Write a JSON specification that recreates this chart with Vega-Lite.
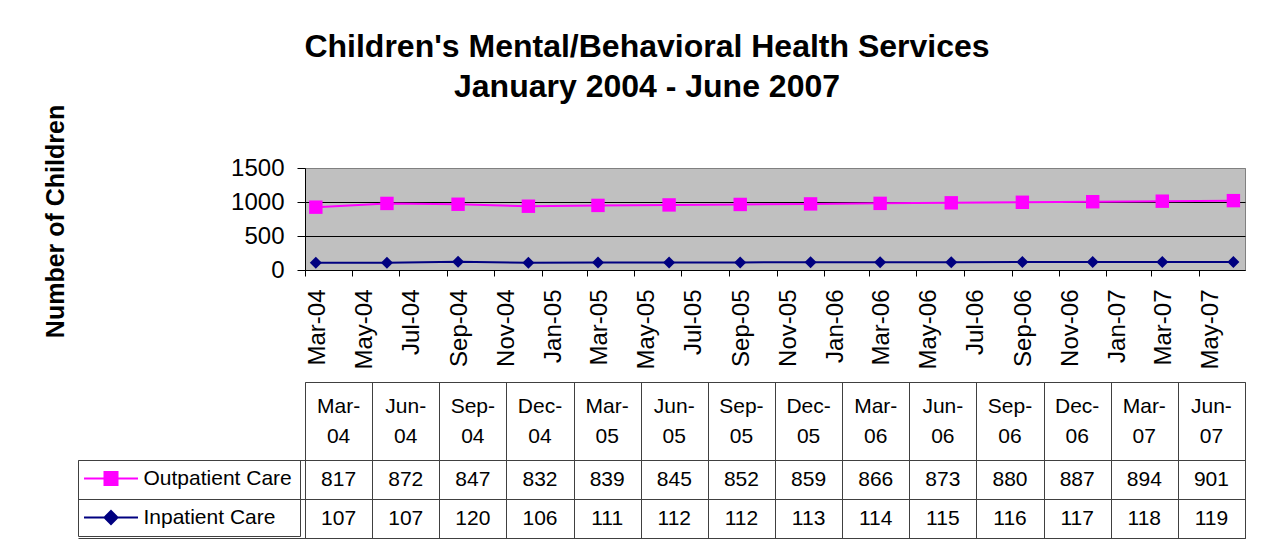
{
  "$schema": "https://vega.github.io/schema/vega-lite/v6.json",
  "background": "white",
  "padding": {"left": 42, "top": 30, "right": 38, "bottom": 19},
  "config": {
    "font": "Liberation Sans",
    "view": {"stroke": null},
    "text": {"font": "Liberation Sans", "color": "black"}
  },
  "title": {
    "text": ["Children's Mental/Behavioral Health Services", "January 2004 - June 2007"],
    "font": "Liberation Sans",
    "fontSize": 32,
    "fontWeight": "bold",
    "color": "black",
    "anchor": "middle",
    "lineHeight": 40,
    "baseline": "bottom",
    "offset": -32,
    "dx": 3
  },
  "data": {
    "values": [
      {"date": "2004-03-15", "series": "Outpatient Care", "count": 817},
      {"date": "2004-06-15", "series": "Outpatient Care", "count": 872},
      {"date": "2004-09-15", "series": "Outpatient Care", "count": 847},
      {"date": "2004-12-15", "series": "Outpatient Care", "count": 832},
      {"date": "2005-03-15", "series": "Outpatient Care", "count": 839},
      {"date": "2005-06-15", "series": "Outpatient Care", "count": 845},
      {"date": "2005-09-15", "series": "Outpatient Care", "count": 852},
      {"date": "2005-12-15", "series": "Outpatient Care", "count": 859},
      {"date": "2006-03-15", "series": "Outpatient Care", "count": 866},
      {"date": "2006-06-15", "series": "Outpatient Care", "count": 873},
      {"date": "2006-09-15", "series": "Outpatient Care", "count": 880},
      {"date": "2006-12-15", "series": "Outpatient Care", "count": 887},
      {"date": "2007-03-15", "series": "Outpatient Care", "count": 894},
      {"date": "2007-06-15", "series": "Outpatient Care", "count": 901},
      {"date": "2004-03-15", "series": "Inpatient Care", "count": 107},
      {"date": "2004-06-15", "series": "Inpatient Care", "count": 107},
      {"date": "2004-09-15", "series": "Inpatient Care", "count": 120},
      {"date": "2004-12-15", "series": "Inpatient Care", "count": 106},
      {"date": "2005-03-15", "series": "Inpatient Care", "count": 111},
      {"date": "2005-06-15", "series": "Inpatient Care", "count": 112},
      {"date": "2005-09-15", "series": "Inpatient Care", "count": 112},
      {"date": "2005-12-15", "series": "Inpatient Care", "count": 113},
      {"date": "2006-03-15", "series": "Inpatient Care", "count": 114},
      {"date": "2006-06-15", "series": "Inpatient Care", "count": 115},
      {"date": "2006-09-15", "series": "Inpatient Care", "count": 116},
      {"date": "2006-12-15", "series": "Inpatient Care", "count": 117},
      {"date": "2007-03-15", "series": "Inpatient Care", "count": 118},
      {"date": "2007-06-15", "series": "Inpatient Care", "count": 119}
    ]
  },
  "bounds": "flush",
  "spacing": 112,
  "vconcat": [
    {
      "width": 940,
      "height": 102,
      "view": {"fill": "#C0C0C0", "stroke": "#808080", "strokeWidth": 1},
      "transform": [
        {"stack": "count", "groupby": ["date"], "sort": [{"field": "series", "order": "ascending"}], "as": ["count_lo", "count_hi"]}
      ],
      "encoding": {
        "x": {
          "field": "date",
          "type": "temporal",
          "scale": {
            "type": "utc",
            "domain": [
              {"year": 2004, "month": 3, "date": 1, "utc": true},
              {"year": 2007, "month": 6, "date": 30, "utc": true}
            ]
          },
          "axis": {
            "title": null,
            "format": "%b-%y",
            "tickCount": {"interval": "month", "step": 2},
            "labelAngle": 270,
            "labelAlign": "right",
            "labelBaseline": "top",
            "labelFont": "Liberation Sans",
            "labelFontSize": 24,
            "labelColor": "black",
            "labelPadding": 13,
            "labelOverlap": false,
            "labelFlush": false,
            "labelBound": false,
            "tickSize": 6,
            "tickColor": "black",
            "domainColor": "black",
            "grid": false
          }
        },
        "y": {
          "field": "count_hi",
          "type": "quantitative",
          "scale": {"domain": [0, 1500], "nice": false},
          "axis": {
            "values": [0, 500, 1000, 1500],
            "format": "d",
            "title": "Number of Children",
            "titleFont": "Liberation Sans",
            "titleFontSize": 25,
            "titleFontWeight": "bold",
            "titleColor": "black",
            "titleAngle": 270,
            "titleAlign": "center",
            "titleBaseline": "alphabetic",
            "titleX": -242,
            "titleY": 53,
            "labelFont": "Liberation Sans",
            "labelFontSize": 24,
            "labelColor": "black",
            "labelPadding": 13,
            "tickSize": 8,
            "tickColor": "black",
            "domainColor": "black",
            "grid": true,
            "gridColor": {"condition": {"test": "datum.value === 1500", "value": "#808080"}, "value": "black"},
            "gridOpacity": 1
          }
        },
        "color": {
          "field": "series",
          "type": "nominal",
          "scale": {"domain": ["Outpatient Care", "Inpatient Care"], "range": ["#FF00FF", "#000080"]},
          "legend": {
            "orient": "none",
            "legendX": -227,
            "legendY": 292,
            "direction": "vertical",
            "title": null,
            "symbolSize": 169,
            "symbolStrokeWidth": 2,
            "symbolOffset": 14.5,
            "labelOffset": 22,
            "labelFont": "Liberation Sans",
            "labelFontSize": 21,
            "labelColor": "black",
            "labelLimit": 400,
            "padding": 8,
            "rowPadding": 17,
            "strokeColor": "#404040",
            "encode": {
              "symbols": {
                "update": {
                  "shape": {"signal": "datum.value === 'Outpatient Care' ? 'M-4.15,0L4.15,0M-1,-1L1,-1L1,1L-1,1Z' : 'M-4.15,0L4.15,0M0,-1L1,0L0,1L-1,0Z'"},
                  "fill": {"scale": "color", "field": "value"},
                  "stroke": {"scale": "color", "field": "value"},
                  "strokeWidth": {"value": 2},
                  "opacity": {"value": 1},
                  "fillOpacity": {"value": 1},
                  "strokeOpacity": {"value": 1}
                }
              }
            }
          }
        }
      },
      "layer": [
        {"mark": {"type": "line", "strokeWidth": 2}},
        {
          "transform": [{"filter": "datum.series === 'Outpatient Care'"}],
          "mark": {"type": "point", "filled": true, "opacity": 1, "shape": "square", "size": 180}
        },
        {
          "transform": [{"filter": "datum.series === 'Inpatient Care'"}],
          "mark": {"type": "point", "filled": true, "opacity": 1, "shape": "diamond", "size": 144}
        }
      ]
    },
    {
      "width": 940,
      "height": 156,
      "view": {"stroke": "#404040", "fill": null},
      "encoding": {
        "x": {
          "field": "date",
          "timeUnit": "utcyearmonth",
          "type": "ordinal",
          "scale": {"paddingInner": 0, "paddingOuter": 0},
          "axis": {
            "orient": "top",
            "title": null,
            "labels": false,
            "ticks": false,
            "domain": false,
            "grid": true,
            "tickBand": "extent",
            "gridColor": "#404040",
            "gridOpacity": 1
          }
        }
      },
      "layer": [
        {
          "transform": [{"filter": "datum.series === 'Outpatient Care'"}],
          "mark": {"type": "text", "fontSize": 21, "lineBreak": "\n", "lineHeight": 30, "baseline": "middle", "color": "black"},
          "encoding": {
            "y": {
              "datum": "h1",
              "type": "nominal",
              "bandPosition": 0.64,
              "scale": {"domain": ["h1", "h2", "Outpatient Care", "Inpatient Care"], "paddingInner": 0, "paddingOuter": 0}
            },
            "text": {"field": "date", "timeUnit": "utcyearmonth", "type": "temporal", "format": "%b-\n%y"}
          }
        },
        {
          "mark": {"type": "text", "fontSize": 21, "baseline": "middle", "color": "black"},
          "encoding": {
            "y": {
              "field": "series",
              "type": "nominal",
              "scale": {"domain": ["h1", "h2", "Outpatient Care", "Inpatient Care"], "paddingInner": 0, "paddingOuter": 0},
              "axis": {
                "title": null,
                "values": ["Outpatient Care", "Inpatient Care"],
                "tickBand": "extent",
                "labels": false,
                "domain": false,
                "ticks": true,
                "tickSize": 227,
                "tickColor": "#404040",
                "grid": true,
                "gridColor": "#404040",
                "gridOpacity": 1
              }
            },
            "text": {"field": "count", "type": "quantitative"}
          }
        }
      ]
    }
  ]
}
